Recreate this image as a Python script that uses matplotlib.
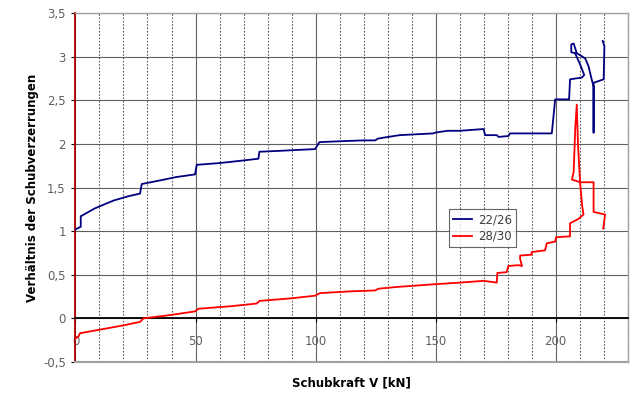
import matplotlib.pyplot as plt
import numpy as np
from matplotlib.ticker import FuncFormatter

# Schubkraft V [kN] / Verhaeltnis der Schubverzerrungen, Serie 22/26
x2226 = [0, 2.2, 2.2, 8, 15.8, 22, 26.9, 27.6, 35, 42, 49.8, 50.5, 60, 70, 76.2, 76.6,
         85, 92, 99.8, 101.6, 110, 120, 124.8, 126, 128, 135, 142, 149, 150, 155, 160,
         170, 170.6, 175.5, 176.2, 180.3, 181, 190, 198.4, 199.8, 205.6, 206, 210.9,
         211.9, 210.2, 208.1, 206.5, 206.5, 207.5, 208.8, 212.3, 213.7, 215, 215.8,
         215.8, 215.8, 220, 220.3, 219.6]
y2226 = [1.02, 1.05, 1.17, 1.26, 1.35, 1.40, 1.43, 1.54, 1.58, 1.62, 1.65, 1.76, 1.78,
         1.81, 1.83, 1.91, 1.92, 1.93, 1.94, 2.02, 2.03, 2.04, 2.04, 2.06, 2.07, 2.10,
         2.11, 2.12, 2.13, 2.15, 2.15, 2.17, 2.10, 2.10, 2.08, 2.09, 2.12, 2.12, 2.12,
         2.51, 2.51, 2.74, 2.76, 2.79, 2.91, 3.04, 3.05, 3.14, 3.15, 3.04, 2.98, 2.89,
         2.74, 2.66, 2.13, 2.70, 2.74, 3.12, 3.18]

# Serie 28/30
x2830 = [0, 1.2, 1.9, 10, 20, 26.9, 28.3, 40, 49.8, 51.2, 65, 75.5, 76.6, 90, 99.8,
         101.9, 115, 124.8, 126.2, 133.8, 149, 160.2, 170, 175.5, 175.7, 179.6, 180.3,
         184.5, 186, 185.2, 185.2, 190, 190, 195.6, 196.3, 199.8, 200.2, 206, 206,
         209.5, 211.6, 211, 210.2, 209.3, 208.8, 208.2, 207.5, 206.8, 210.3, 215.8,
         215.8, 220.6, 219.8]
y2830 = [-0.23, -0.21, -0.17, -0.13, -0.08, -0.04, 0.0, 0.04, 0.08, 0.11, 0.14, 0.17,
         0.20, 0.23, 0.26, 0.29, 0.31, 0.32, 0.34, 0.36, 0.39, 0.41, 0.43, 0.41, 0.52,
         0.53, 0.60, 0.61, 0.60, 0.68, 0.72, 0.73, 0.76, 0.78, 0.86, 0.88, 0.93, 0.94,
         1.09, 1.14, 1.19, 1.30, 1.55, 2.0, 2.45, 2.2, 1.68, 1.59, 1.56, 1.56, 1.22,
         1.19, 1.03]

xticks = [0, 50, 100, 150, 200]
yticks = [-0.5, 0, 0.5, 1, 1.5, 2, 2.5, 3, 3.5]

plt.rcParams['font.family'] = ['DejaVu Sans']

fig = plt.figure(figsize=(6.3, 3.93), dpi=100)
ax = fig.add_axes([0.1198, 0.0789, 0.8765, 0.888])

ax.plot(x2226, y2226, color='#000080', lw=1.3, label='22/26', zorder=3)
ax.plot(x2830, y2830, color='#ff0000', lw=1.3, label='28/30', zorder=3)

ax.set_xlim(0, 230)
ax.set_ylim(-0.5, 3.5)
ax.set_xticks(xticks)
ax.set_xticks(np.arange(0, 231, 10), minor=True)
ax.set_yticks(yticks)
ax.yaxis.set_major_formatter(FuncFormatter(lambda v, p: f"{v:g}".replace('.', ',')))

ax.grid(True, which='major', color='#606060', lw=0.8, ls='-')
ax.grid(True, which='minor', axis='x', color='#606060', lw=0.8, ls=(0, (1.5, 1.5)))
ax.set_axisbelow(True)

ax.spines['bottom'].set_position(('data', 0))
ax.spines['bottom'].set_color('black')
ax.spines['bottom'].set_linewidth(1.3)
ax.spines['left'].set_color('#b00000')
ax.spines['left'].set_linewidth(1.3)
for s in ['top', 'right']:
    ax.spines[s].set_color('#a0a0a0')
    ax.spines[s].set_linewidth(1.0)
ax.axhline(-0.5, color='#a0a0a0', lw=1.5, zorder=4, clip_on=False)

ax.tick_params(axis='x', which='major', length=3, pad=9, labelsize=8.5, labelcolor='#606060', color='black')
ax.tick_params(axis='x', which='minor', length=0)
ax.tick_params(axis='y', length=3, pad=4, labelsize=8.5, labelcolor='#606060', color='black')

ax.set_ylabel('Verhältnis der Schubverzerrungen', fontsize=8.5, fontweight='bold', labelpad=3)
fig.text(0.558, 0.025, 'Schubkraft V [kN]', fontsize=8.5, fontweight='bold', ha='center', va='center')

leg = ax.legend(loc='upper left', bbox_to_anchor=(0.677, 0.4375), borderaxespad=0,
                fontsize=8.5, frameon=True, fancybox=False, handlelength=1.6,
                handletextpad=0.5, borderpad=0.35, labelspacing=0.3)
leg.get_frame().set_edgecolor('#404040')
leg.get_frame().set_linewidth(0.8)
for t in leg.get_texts():
    t.set_color('#404040')

plt.savefig('out.png', dpi=100)
